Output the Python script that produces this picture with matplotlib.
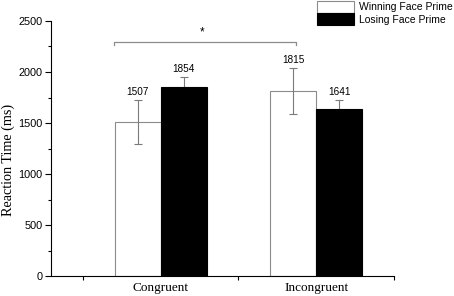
import numpy as np
import matplotlib
matplotlib.use("Agg")
import matplotlib.pyplot as plt
from matplotlib.patches import Patch
from matplotlib.ticker import MultipleLocator, FixedLocator

# data
conditions = ["Congruent", "Incongruent"]
series = ["Winning Face Prime", "Losing Face Prime"]
winning_rt = [1507, 1815]
losing_rt = [1854, 1641]
winning_err = [215, 222]
losing_err = [97, 84]

sans = "Liberation Sans"
serif = "Liberation Serif"

fig = plt.figure(figsize=(4.54, 2.96), dpi=100)
ax = fig.add_axes([51 / 454, 20 / 296, 343 / 454, 255 / 296])

x = np.arange(1, len(conditions) + 1)
w = 0.295

ax.bar(x - w / 2, winning_rt, w, color="white", edgecolor="#8c8c8c", linewidth=0.8, zorder=2)
ax.bar(x + w / 2, losing_rt, w, color="black", edgecolor="black", linewidth=0.8, zorder=2)
ax.errorbar(x - w / 2, winning_rt, yerr=winning_err, fmt="none", ecolor="#7a7a7a",
            elinewidth=0.8, capsize=2.6, capthick=0.8, zorder=3)
ax.errorbar(x + w / 2, losing_rt, yerr=losing_err, fmt="none", ecolor="#7a7a7a",
            elinewidth=0.8, capsize=2.6, capthick=0.8, zorder=1)

# value labels above the error bars
for xi, v, e in zip(x - w / 2, winning_rt, winning_err):
    ax.annotate(str(v), (xi, v + e), xytext=(0, 2.5), textcoords="offset points",
                ha="center", va="bottom", fontsize=7.2, family=sans)
for xi, v, e in zip(x + w / 2, losing_rt, losing_err):
    ax.annotate(str(v), (xi, v + e), xytext=(0, 2.5), textcoords="offset points",
                ha="center", va="bottom", fontsize=7.2, family=sans)

# significance bracket
bx0, bx1, by = 0.70, 1.87, 2290
ax.plot([bx0, bx0, bx1, bx1], [by - 30, by, by, by - 30], color="#8c8c8c", lw=0.9, clip_on=False)
ax.text((bx0 + bx1) / 2 - 0.02, by + 40, "*", ha="center", va="bottom", fontsize=8.5, family=sans)

ax.set_xlim(0.295, 2.5)
ax.set_ylim(0, 2500)
ax.spines["top"].set_visible(False)
ax.spines["right"].set_visible(False)
ax.spines["left"].set_linewidth(0.8)
ax.spines["bottom"].set_linewidth(0.8)

ax.xaxis.set_major_locator(FixedLocator([0.5, 1.5, 2.5]))
ax.xaxis.set_minor_locator(FixedLocator(list(x)))
ax.set_xticklabels([])
ax.set_xticklabels(conditions, minor=True, family=serif, fontsize=9.5)
ax.tick_params(axis="x", which="major", length=3, width=0.8)
ax.tick_params(axis="x", which="minor", length=0, pad=4)

ax.yaxis.set_major_locator(MultipleLocator(500))
ax.yaxis.set_minor_locator(MultipleLocator(250))
ax.tick_params(axis="y", which="major", length=4, width=0.8, labelsize=7.8, pad=2)
ax.tick_params(axis="y", which="minor", length=2.5, width=0.8)
for lab in ax.get_yticklabels():
    lab.set_family(sans)

ax.set_ylabel("Reaction Time (ms)", family=serif, fontsize=10.2)
ax.yaxis.set_label_coords(-0.105, 0.455)

handles = [Patch(facecolor="white", edgecolor="#8c8c8c", linewidth=0.8),
           Patch(facecolor="black", edgecolor="black", linewidth=0.8)]
fig.legend(handles, series, loc="upper left", bbox_to_anchor=(311 / 454, 1.017),
           frameon=False, prop={"family": sans, "size": 7.5}, borderpad=0.05,
           handlelength=3.6, handleheight=1.4, handletextpad=0.5, labelspacing=0.05)

fig.savefig("out.png", dpi=100)
